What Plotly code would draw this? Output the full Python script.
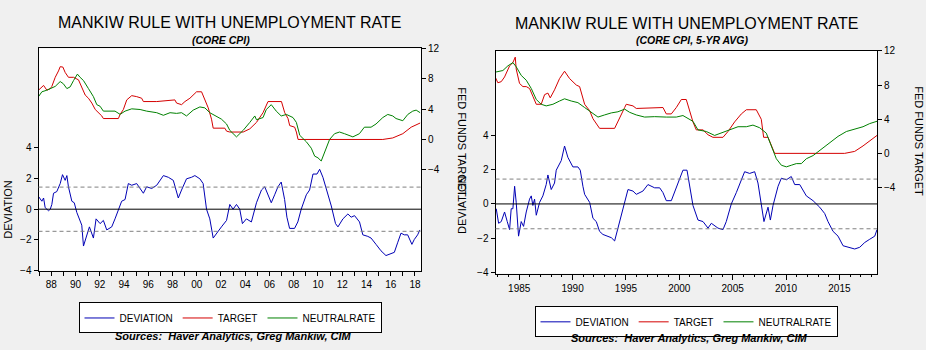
import plotly.graph_objects as go

W, H = 926, 350

# ---------------- LEFT PANEL (CORE CPI) ----------------
L_TARGET_X = [1986.95, 1987.23, 1987.37, 1987.64, 1987.92, 1988.05, 1988.33, 1988.6, 1988.74, 1988.96,
              1989.15, 1989.42, 1989.84, 1990.25, 1990.52, 1990.8, 1991.07, 1991.35, 1991.63, 1991.9,
              1992.17, 1992.3, 1993.54, 1993.68, 1993.95, 1994.23, 1994.64, 1995.05, 1995.46, 1995.6,
              1996.7, 1998.2, 1998.34, 1998.75, 1999.03, 1999.44, 1999.85, 1999.99, 2000.4, 2000.67,
              2000.95, 2001.22, 2001.36, 2002.32, 2002.46, 2002.73, 2003.83, 2004.38, 2004.93, 2005.47,
              2005.88, 2006.99, 2007.26, 2007.53, 2007.67, 2008.08, 2008.22, 2008.36, 2015.35, 2016.17,
              2017.0, 2017.69, 2018.43]
L_TARGET_Y = [6.5, 7.0, 7.13, 6.5, 6.71, 7.0, 8.2, 9.04, 9.6, 9.55,
              8.84, 8.2, 8.2, 7.86, 6.93, 5.86, 5.44, 4.8, 3.95, 3.53,
              3.1, 2.76, 2.76, 3.3, 3.95, 5.22, 5.78, 5.65, 5.44, 5.0,
              5.0, 5.22, 4.8, 4.59, 5.0, 5.44, 6.08, 6.29, 6.29, 5.22,
              4.17, 2.68, 1.49, 1.49, 1.1, 0.98, 0.98, 1.4, 2.25, 3.53,
              5.0, 5.0, 3.53, 2.76, 1.83, 1.62, 0.98, 0.0, 0.0, 0.2,
              0.76, 1.62, 2.17]

L_NEUTRAL_X = [1986.95, 1987.23, 1987.64, 1988.05, 1988.33, 1988.74, 1989.0, 1989.29, 1989.56, 1989.84,
               1990.16, 1990.38, 1990.66, 1991.07, 1991.48, 1991.76, 1992.03, 1992.3, 1992.85, 1993.26,
               1993.68, 1994.09, 1994.64, 1995.33, 1995.87, 1996.7, 1997.25, 1997.8, 1998.34, 1998.75,
               1999.16, 1999.71, 2000.26, 2000.67, 2001.08, 2001.63, 2002.04, 2002.46, 2002.73, 2003.28,
               2003.83, 2004.38, 2004.79, 2004.93, 2005.47, 2005.74, 2006.15, 2006.56, 2006.97, 2007.4,
               2007.94, 2008.22, 2008.5, 2009.04, 2009.45, 2009.73, 2010.0, 2010.27, 2010.55, 2010.96,
               2011.37, 2011.78, 2012.19, 2012.88, 2013.42, 2013.83, 2014.38, 2014.79, 2015.35, 2015.76,
               2016.17, 2016.44, 2017.0, 2017.41, 2017.82, 2018.1, 2018.43]
L_NEUTRAL_Y = [5.65, 6.29, 6.5, 6.84, 7.0, 7.64, 7.35, 6.71, 6.93, 7.77,
               8.62, 8.2, 7.77, 6.71, 5.65, 4.59, 4.38, 3.74, 3.74, 3.74,
               3.31, 3.74, 4.04, 3.95, 3.74, 3.53, 3.19, 3.53, 3.44, 3.53,
               3.1, 3.87, 4.29, 4.17, 3.53, 3.1, 2.68, 2.04, 1.2, 0.34,
               1.2, 2.25, 3.1, 2.6, 2.89, 3.95, 4.59, 3.74, 3.1, 3.3,
               2.89, 2.25, 0.55, -0.3, -1.15, -2.2, -2.42, -2.84, -1.57, 0.0,
               0.76, 0.98, 0.76, 0.34, 0.76, 1.62, 1.62, 2.04, 2.89, 3.3,
               3.1, 2.76, 2.47, 3.3, 3.74, 3.87, 3.53]

L_DEV_X = [1986.95, 1987.23, 1987.37, 1987.5, 1987.78, 1987.92, 1988.05, 1988.19, 1988.46, 1988.74,
           1988.93, 1989.15, 1989.29, 1989.42, 1989.7, 1989.9, 1990.11, 1990.38, 1990.52, 1990.66,
           1990.88, 1991.15, 1991.48, 1991.7, 1992.03, 1992.3, 1992.58, 1992.99, 1993.26, 1993.54,
           1993.81, 1994.09, 1994.36, 1994.64, 1995.05, 1995.6, 1995.87, 1996.29, 1996.7, 1997.25,
           1997.66, 1998.07, 1998.48, 1998.75, 1999.16, 1999.57, 1999.85, 2000.26, 2000.53, 2000.81,
           2001.08, 2001.36, 2001.63, 2002.04, 2002.46, 2002.73, 2003.0, 2003.28, 2003.55, 2003.77,
           2004.1, 2004.51, 2004.93, 2005.34, 2005.61, 2005.88, 2006.15, 2006.43, 2006.7, 2006.97,
           2007.25, 2007.44, 2007.66, 2008.07, 2008.34, 2008.62, 2009.04, 2009.31, 2009.59, 2009.92,
           2010.14, 2010.41, 2010.69, 2011.1, 2011.45, 2011.65, 2012.06, 2012.47, 2012.74, 2013.02,
           2013.43, 2013.7, 2014.11, 2014.38, 2014.79, 2015.2, 2015.61, 2015.89, 2016.3, 2016.57,
           2016.85, 2017.12, 2017.4, 2017.75, 2017.94, 2018.22, 2018.41]
L_DEV_Y = [0.83, 0.52, 0.73, 0.1, -0.1, 0.0, 0.31, 1.04, 1.15, 1.67,
           2.25, 1.88, 2.19, 1.46, 0.52, 0.42, -0.21, -0.83, -1.04, -2.4,
           -1.77, -1.15, -1.88, -0.63, -0.94, -0.73, -1.35, -1.15, -0.63, -0.1,
           0.52, 0.63, 1.67, 1.56, 1.67, 1.04, 1.46, 1.35, 1.56, 2.19,
           2.08, 1.88, 0.73, 1.25, 1.98, 2.08, 2.19, 1.98, 1.67, 0.0,
           -0.63, -1.88, -1.56, -1.15, -0.73, 0.31, 0.0, 0.31, 0.0, -0.94,
           -0.63, -0.83, 0.42, 1.25, 1.46, 0.94, 0.42, 0.94, 1.46, 1.77,
           0.63, -0.52, -1.25, -1.25, -0.83, 0.0, 0.94, 1.25, 2.29, 2.29,
           2.6, 2.08, 1.35, 0.21, -0.94, -1.15, -0.63, -0.31, -0.52, -0.42,
           -0.83, -1.67, -1.77, -1.88, -2.29, -2.71, -3.02, -2.92, -2.81, -2.19,
           -1.56, -1.67, -1.67, -2.29, -1.98, -1.67, -1.35]
L_BANDS = [1.44, -1.44]
L_XTICK_VALS = list(range(1987, 2019))
L_XTICK_TEXT = ["", "88", "", "90", "", "92", "", "94", "", "96", "", "98", "", "00", "", "02",
                "", "04", "", "06", "", "08", "", "10", "", "12", "", "14", "", "16", "", "18"]

# ---------------- RIGHT PANEL (CORE CPI, 5-YR AVG) ----------------
R_TARGET_X = [1982.75, 1983.0, 1983.32, 1983.63, 1984.10, 1984.41, 1984.63, 1984.72, 1985.03, 1985.35,
              1985.66, 1985.97, 1986.28, 1986.60, 1987.06, 1987.38, 1987.69, 1987.91, 1988.31, 1988.78,
              1989.25, 1989.72, 1990.35, 1990.66, 1991.13, 1991.60, 1991.91, 1992.53, 1993.94, 1994.41,
              1994.88, 1995.03, 1995.66, 1995.97, 1997.53, 1998.47, 1998.78, 1999.25, 1999.72, 2000.19,
              2000.65, 2000.97, 2001.28, 2001.59, 2002.22, 2002.69, 2003.15, 2004.09, 2004.56, 2005.18,
              2005.81, 2006.28, 2007.21, 2007.68, 2007.90, 2008.31, 2008.62, 2008.93, 2015.49, 2016.43,
              2017.21, 2017.84, 2018.52]
R_TARGET_Y = [8.95, 8.27, 8.4, 8.95, 10.25, 10.63, 11.27, 9.88, 8.19, 7.82,
              7.82, 7.6, 6.69, 5.75, 5.75, 6.88, 7.06, 6.5, 7.44, 8.76,
              9.62, 8.76, 8.0, 7.82, 5.75, 5.0, 4.06, 2.93, 2.93, 4.25,
              5.37, 5.75, 5.56, 5.26, 5.37, 5.37, 4.62, 4.62, 5.37, 6.31,
              6.31, 4.81, 3.68, 2.75, 2.75, 2.18, 1.88, 1.88, 2.56, 3.68,
              4.62, 5.11, 5.11, 3.99, 1.88, 1.88, 0.87, 0.0, 0.0, 0.23,
              0.87, 1.43, 2.1]

R_NEUTRAL_X = [1982.75, 1983.16, 1983.47, 1983.94, 1984.41, 1984.72, 1985.19, 1985.66, 1986.13, 1986.60,
               1987.06, 1987.53, 1988.16, 1988.78, 1989.25, 1989.88, 1990.50, 1991.13, 1991.75, 1992.38,
               1993.00, 1993.63, 1994.25, 1994.88, 1995.34, 1995.97, 1996.75, 1997.69, 1998.78, 1999.72,
               2000.34, 2000.81, 2001.28, 2001.75, 2002.53, 2003.31, 2003.93, 2004.72, 2005.50, 2006.28,
               2006.90, 2007.53, 2008.15, 2008.62, 2009.09, 2009.56, 2010.03, 2010.49, 2010.96, 2011.43,
               2011.90, 2012.53, 2013.31, 2014.09, 2014.87, 2015.65, 2016.43, 2017.21, 2017.84, 2018.52]
R_NEUTRAL_Y = [9.51, 9.62, 9.7, 10.25, 10.63, 10.14, 9.13, 8.57, 7.6, 6.31,
               5.75, 5.56, 5.75, 6.13, 6.39, 6.13, 5.94, 5.37, 4.81, 4.25,
               4.5, 4.74, 4.87, 5.18, 4.81, 4.5, 4.25, 4.3, 4.25, 4.25,
               4.43, 4.12, 3.75, 2.75, 2.56, 2.1, 2.37, 2.75, 3.12, 3.12,
               3.31, 3.0, 2.37, 0.87, -0.63, -1.39, -1.58, -1.39, -1.2, -1.2,
               -0.63, -0.26, 0.49, 1.24, 1.99, 2.56, 2.86, 3.12, 3.49, 3.76]

R_DEV_X = [1982.85, 1983.07, 1983.32, 1983.63, 1983.88, 1984.10, 1984.25, 1984.41, 1984.57, 1984.72,
           1984.94, 1985.19, 1985.41, 1985.66, 1985.97, 1986.13, 1986.28, 1986.44, 1986.60, 1986.91,
           1987.22, 1987.53, 1987.69, 1988.00, 1988.31, 1988.47, 1988.94, 1989.25, 1989.56, 1990.03,
           1990.50, 1990.72, 1990.97, 1991.13, 1991.60, 1991.91, 1992.22, 1992.53, 1992.84, 1993.31,
           1993.63, 1993.94, 1994.25, 1994.56, 1994.88, 1995.19, 1995.66, 1995.97, 1996.59, 1997.06,
           1997.69, 1998.16, 1998.47, 1998.78, 1999.25, 1999.72, 2000.03, 2000.34, 2000.72, 2001.12,
           2001.28, 2001.75, 2002.22, 2002.69, 2003.00, 2003.62, 2004.09, 2004.40, 2004.87, 2005.34,
           2005.81, 2006.12, 2006.59, 2007.06, 2007.37, 2007.68, 2007.93, 2008.31, 2008.53, 2008.78,
           2009.25, 2009.56, 2010.03, 2010.49, 2010.81, 2011.28, 2011.90, 2012.53, 2013.15, 2013.62,
           2013.93, 2014.40, 2014.87, 2015.34, 2015.81, 2016.43, 2016.90, 2017.37, 2017.84, 2018.31,
           2018.52]
R_DEV_Y = [-0.28, -1.13, -1.03, -0.47, -1.03, -1.5, -0.28, -0.28, 1.03, 0.09,
           -1.88, -1.03, -1.31, -0.47, 0.28, 0.47, -0.09, 0.28, -0.66, 0.09,
           0.47, 1.13, 1.69, 0.84, 1.22, 1.97, 2.53, 3.38, 2.72, 2.16,
           2.16, 1.97, 1.03, 0.56, 0.09, -0.84, -1.03, -1.6, -1.78, -1.88,
           -1.97, -2.16, -1.41, -0.66, 0.09, 0.84, 0.75, 0.56, 0.75, 1.13,
           0.94, 0.94, 0.66, 0.19, 0.19, 0.94, 1.41, 1.97, 1.97, 0.47,
           -0.09, -0.94, -1.03, -1.41, -1.13, -1.41, -1.5, -1.03, 0.0, 0.66,
           1.41, 1.88, 1.78, 1.88, 1.22, 0.09, -1.03, -0.19, -0.94, -0.09,
           1.03, 1.5, 1.41, 1.6, 1.13, 1.13, 0.47, 0.19, -0.19, -0.56,
           -1.03, -1.6, -1.88, -2.44, -2.53, -2.63, -2.53, -2.25, -2.06, -1.88,
           -1.5]
R_BANDS = [1.45, -1.45]

DEV_TICKS = [-4, -2, 0, 2, 4]
FED_TICKS = [-4, 0, 4, 8, 12]

BLUE, RED, GREEN = "#0000B4", "#D40000", "#008000"
FONT = "Liberation Sans, Arial, sans-serif"


def px_x(p):
    return p / W


def px_y(p):
    return 1 - p / H


fig = go.Figure()

# left panel traces
fig.add_trace(go.Scatter(x=L_DEV_X, y=L_DEV_Y, name="DEVIATION", mode="lines",
                         line=dict(color=BLUE, width=1), xaxis="x", yaxis="y", legend="legend"))
fig.add_trace(go.Scatter(x=L_TARGET_X, y=L_TARGET_Y, name="TARGET", mode="lines",
                         line=dict(color=RED, width=1), xaxis="x", yaxis="y2", legend="legend"))
fig.add_trace(go.Scatter(x=L_NEUTRAL_X, y=L_NEUTRAL_Y, name="NEUTRALRATE", mode="lines",
                         line=dict(color=GREEN, width=1), xaxis="x", yaxis="y2", legend="legend"))
# right panel traces
fig.add_trace(go.Scatter(x=R_DEV_X, y=R_DEV_Y, name="DEVIATION", mode="lines",
                         line=dict(color=BLUE, width=1), xaxis="x2", yaxis="y3", legend="legend2"))
fig.add_trace(go.Scatter(x=R_TARGET_X, y=R_TARGET_Y, name="TARGET", mode="lines",
                         line=dict(color=RED, width=1), xaxis="x2", yaxis="y4", legend="legend2"))
fig.add_trace(go.Scatter(x=R_NEUTRAL_X, y=R_NEUTRAL_Y, name="NEUTRALRATE", mode="lines",
                         line=dict(color=GREEN, width=1), xaxis="x2", yaxis="y4", legend="legend2"))

axis_common = dict(showgrid=False, zeroline=False, showline=True, linecolor="black", linewidth=1,
                   ticks="outside", tickcolor="black", ticklen=4, tickwidth=1,
                   tickfont=dict(family=FONT, size=10, color="black"))

L_DOM_X = [px_x(38.5), px_x(421)]
L_DOM_Y = [px_y(274), px_y(44)]
R_DOM_X = [px_x(495.5), px_x(877)]
R_DOM_Y = [px_y(277), px_y(46.5)]

fig.update_layout(
    width=W, height=H,
    margin=dict(l=0, r=0, t=0, b=0),
    paper_bgcolor="#F0F0F0", plot_bgcolor="white",
    xaxis=dict(domain=L_DOM_X, anchor="y", range=[1986.95, 2018.5], mirror=True,
               tickmode="array", tickvals=L_XTICK_VALS, ticktext=L_XTICK_TEXT, **axis_common),
    yaxis=dict(domain=L_DOM_Y, anchor="x", range=[-4, 10.47], side="left",
               tickmode="array", tickvals=DEV_TICKS, **axis_common),
    yaxis2=dict(domain=L_DOM_Y, anchor="x", overlaying="y", side="right", range=[-17.3, 12],
                tickmode="array", tickvals=FED_TICKS, **axis_common),
    xaxis2=dict(domain=R_DOM_X, anchor="y3", range=[1982.78, 2018.52], mirror=True,
                tickmode="linear", tick0=1985, dtick=5,
                minor=dict(dtick=1, tick0=1985, ticks="outside", ticklen=2, tickcolor="black"),
                **{**axis_common, "ticklen": 5}),
    yaxis3=dict(domain=R_DOM_Y, anchor="x2", range=[-4.06, 8.93], side="left",
                tickmode="array", tickvals=DEV_TICKS, **axis_common),
    yaxis4=dict(domain=R_DOM_Y, anchor="x2", overlaying="y3", side="right", range=[-14.07, 12],
                tickmode="array", tickvals=FED_TICKS, **axis_common),
    legend=dict(orientation="h", x=px_x(230), xanchor="center", y=px_y(307), yanchor="top",
                bgcolor="white", bordercolor="black", borderwidth=1,
                font=dict(family=FONT, size=10, color="black"), tracegroupgap=0),
    legend2=dict(orientation="h", x=px_x(686), xanchor="center", y=px_y(311), yanchor="top",
                 bgcolor="white", bordercolor="black", borderwidth=1,
                 font=dict(family=FONT, size=10, color="black"), tracegroupgap=0),
    showlegend=True,
)

shapes = []
for xr, yr, bands in (("x domain", "y", L_BANDS), ("x2 domain", "y3", R_BANDS)):
    shapes.append(dict(type="line", xref=xr, yref=yr, x0=0, x1=1, y0=0, y1=0,
                       line=dict(color="black", width=1)))
    for b in bands:
        shapes.append(dict(type="line", xref=xr, yref=yr, x0=0, x1=1, y0=b, y1=b,
                           line=dict(color="#808080", width=1, dash="4px,3px")))
fig.update_layout(shapes=shapes)

ann = []


def add_text(text, x, y, size, angle=0, bold=False, italic=False):
    t = text
    if italic:
        t = "<i>" + t + "</i>"
    if bold:
        t = "<b>" + t + "</b>"
    ann.append(dict(text=t, x=px_x(x), y=px_y(y), xref="paper", yref="paper",
                    xanchor="center", yanchor="middle", showarrow=False, textangle=angle,
                    font=dict(family=FONT, size=size, color="black")))


add_text("MANKIW RULE WITH UNEMPLOYMENT RATE", 229, 17.5, 16)
add_text("MANKIW RULE WITH UNEMPLOYMENT RATE", 686, 18, 16)
add_text("(CORE CPI)", 221, 35, 10.5, bold=True, italic=True)
add_text("(CORE CPI, 5-YR AVG)", 692, 35, 10.5, bold=True, italic=True)
add_text("DEVIATION", 8, 211, 11, angle=-90)
add_text("FED FUNDS TARGET", 462, 141, 11, angle=90)
add_text("DEVIATION", 462, 206, 11, angle=-90)
add_text("FED FUNDS TARGET", 919, 140, 11, angle=90)
add_text("Sources:&nbsp;&nbsp;Haver Analytics, Greg Mankiw, CIM", 233.5, 342, 11, bold=True, italic=True)
add_text("Sources:&nbsp;&nbsp;Haver Analytics, Greg Mankiw, CIM", 689.5, 343.5, 11, bold=True, italic=True)
fig.update_layout(annotations=ann)

fig.write_html("out.html")
